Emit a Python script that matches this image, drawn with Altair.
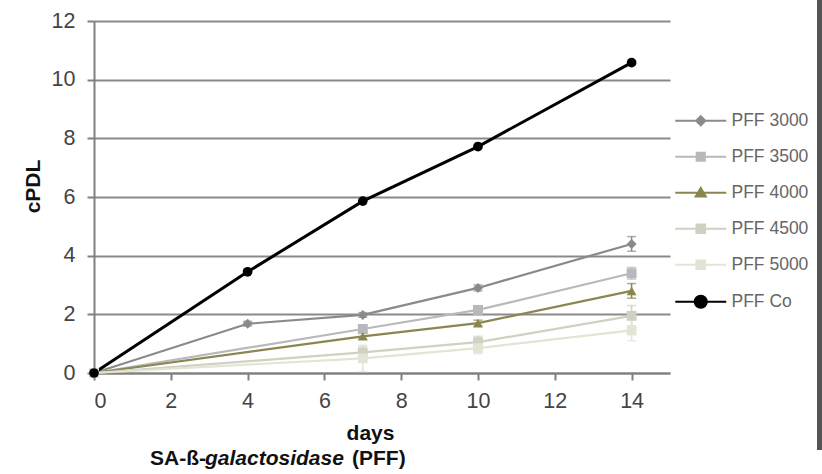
import altair as alt
import pandas as pd

FONT = "Liberation Sans"

series = ["PFF 3000", "PFF 3500", "PFF 4000", "PFF 4500", "PFF 5000", "PFF Co"]
colors = ["#8a8a8a", "#b9b9bd", "#8b8550", "#d0d1c0", "#e4e4d5", "#000000"]

days_3000 = [0, 4, 7, 10, 14]
vals_3000 = [0, 1.68, 1.98, 2.9, 4.4]
err_3000 = [0, 0.08, 0.08, 0.1, 0.25]

days_3500 = [0, 7, 10, 14]
vals_3500 = [0, 1.5, 2.15, 3.4]
err_3500 = [0, 0.1, 0.1, 0.2]

days_4000 = [0, 7, 10, 14]
vals_4000 = [0, 1.25, 1.7, 2.8]
err_4000 = [0, 0.1, 0.1, 0.25]

days_4500 = [0, 7, 10, 14]
vals_4500 = [0, 0.7, 1.05, 1.95]
err_4500 = [0, 0.2, 0.2, 0.35]

days_5000 = [0, 7, 10, 14]
vals_5000 = [0, 0.5, 0.85, 1.45]
err_5000 = [0, 0.45, 0.2, 0.35]

days_co = [0, 4, 7, 10, 14]
vals_co = [0, 3.45, 5.86, 7.72, 10.58]
err_co = [0, 0, 0, 0, 0]

x_ticks = [0, 2, 4, 6, 8, 10, 12, 14]
y_ticks = [0, 2, 4, 6, 8, 10, 12]

rows = []
for name, d, v, e in [
    ("PFF 3000", days_3000, vals_3000, err_3000),
    ("PFF 3500", days_3500, vals_3500, err_3500),
    ("PFF 4000", days_4000, vals_4000, err_4000),
    ("PFF 4500", days_4500, vals_4500, err_4500),
    ("PFF 5000", days_5000, vals_5000, err_5000),
    ("PFF Co", days_co, vals_co, err_co),
]:
    for di, vi, ei in zip(d, v, e):
        rows.append({"series": name, "day": di, "value": vi,
                     "lo": vi - ei, "hi": vi + ei, "err": ei})
df = pd.DataFrame(rows)

marker_shapes = ["diamond", "square", "triangle-up", "square", "square", "circle"]
marker_sizes = [100, 95, 140, 200, 200, 200]

# legend symbols: a line segment with the marker in the middle
legend_paths = [
    "M-5,0H5M0,-0.9L0.9,0L0,0.9L-0.9,0Z",
    "M-5,0H5M-0.8,-0.8H0.8V0.8H-0.8Z",
    "M-5,0H5M0,-0.95L1,0.75H-1Z",
    "M-5,0H5M-0.85,-0.85H0.85V0.85H-0.85Z",
    "M-5,0H5M-0.85,-0.85H0.85V0.85H-0.85Z",
    "M-5,0H5M1.2,0A1.2,1.2,0,1,1,-1.2,0A1.2,1.2,0,1,1,1.2,0Z",
]

xs = alt.Scale(domain=[0, 15], nice=False, zero=False)
ys = alt.Scale(domain=[0, 12], nice=False)

X = alt.X("day:Q", scale=xs, axis=alt.Axis(
    values=x_ticks, grid=False, title="days",
    domainColor="#808080", domainWidth=2, tickColor="#808080", tickWidth=2,
    tickSize=7, labelFontSize=21.5, labelFont=FONT, labelColor="#444444",
    labelPadding=10, titleFont=FONT, titleFontSize=21, titleFontWeight="bold",
    titleColor="#111111", titleX=276, titleY=66, titleAlign="center",
    titleBaseline="alphabetic"))
Y = alt.Y("value:Q", scale=ys, axis=alt.Axis(
    values=y_ticks, grid=True, gridColor="#8a8a8a", gridWidth=2,
    title="cPDL", domainColor="#808080", domainWidth=2, tickColor="#808080",
    tickWidth=2, tickSize=7, labelFontSize=21.5, labelFont=FONT,
    labelColor="#444444", labelPadding=12, titleFont=FONT, titleFontSize=21,
    titleFontWeight="bold", titleColor="#111111", titleX=-61, titleY=165,
    titleAlign="center", titleBaseline="middle"))

color = alt.Color("series:N", scale=alt.Scale(domain=series, range=colors), legend=None)

base = alt.Chart(df)

lines = base.transform_filter(alt.datum.series != "PFF Co").mark_line(strokeWidth=2.2).encode(
    x=X, y=Y, color=color, order="day:Q")
line_co = base.transform_filter(alt.datum.series == "PFF Co").mark_line(strokeWidth=3).encode(
    x=X, y=Y, color=color, order="day:Q")

errs = base.transform_filter(alt.datum.err > 0)
err_rule = errs.mark_rule(strokeWidth=1.5).encode(
    x="day:Q", y="lo:Q", y2="hi:Q", color=color)
cap_lo = errs.mark_tick(orient="horizontal", size=9, thickness=1.5).encode(
    x="day:Q", y="lo:Q", color=color)
cap_hi = errs.mark_tick(orient="horizontal", size=9, thickness=1.5).encode(
    x="day:Q", y="hi:Q", color=color)

points = base.mark_point(filled=True, opacity=1).encode(
    x="day:Q", y="value:Q", color=color,
    shape=alt.Shape("series:N", scale=alt.Scale(domain=series, range=marker_shapes), legend=None),
    size=alt.Size("series:N", scale=alt.Scale(domain=series, range=marker_sizes), legend=None))

leg = alt.Legend(orient="none", legendX=598, legendY=91, title=None, padding=0,
                 symbolSize=104, symbolStrokeWidth=2, labelOffset=22,
                 labelFontSize=17.5, labelFont=FONT, labelColor="#666666",
                 rowPadding=17)
ghost = base.transform_filter("false").mark_point(opacity=1, strokeWidth=2).encode(
    x="day:Q", y="value:Q",
    shape=alt.Shape("series:N", scale=alt.Scale(domain=series, range=legend_paths), legend=leg),
    fill=alt.Fill("series:N", scale=alt.Scale(domain=series, range=colors), legend=leg),
    stroke=alt.Stroke("series:N", scale=alt.Scale(domain=series, range=colors), legend=leg))

one = alt.Chart(pd.DataFrame({"k": [0]}))
edge = one.mark_rule(color="#555555", strokeWidth=5).encode(
    x=alt.value(725.5), y=alt.value(-21), y2=alt.value(429))

sub_style = dict(align="left", baseline="alphabetic", font=FONT, fontSize=21,
                 fontWeight="bold", color="#111111")
sub1 = one.mark_text(text="SA-ß-", **sub_style).encode(x=alt.value(56), y=alt.value(444))
sub2 = one.mark_text(text="galactosidase", fontStyle="italic", **sub_style).encode(
    x=alt.value(111), y=alt.value(444))
sub3 = one.mark_text(text="(PFF)", **sub_style).encode(x=alt.value(258), y=alt.value(444))

chart = alt.layer(
    lines, err_rule, cap_lo, cap_hi, line_co, points, ghost, edge, sub1, sub2, sub3
).resolve_scale(
    shape="independent", fill="independent", stroke="independent"
).properties(
    width=576, height=352,
    autosize=alt.AutoSizeParams(type="none"),
    padding={"left": 94, "top": 21, "right": 152, "bottom": 101},
    background="white",
).configure_view(strokeWidth=0)

chart.save("out.html", embed_options={"renderer": "svg", "actions": False})
